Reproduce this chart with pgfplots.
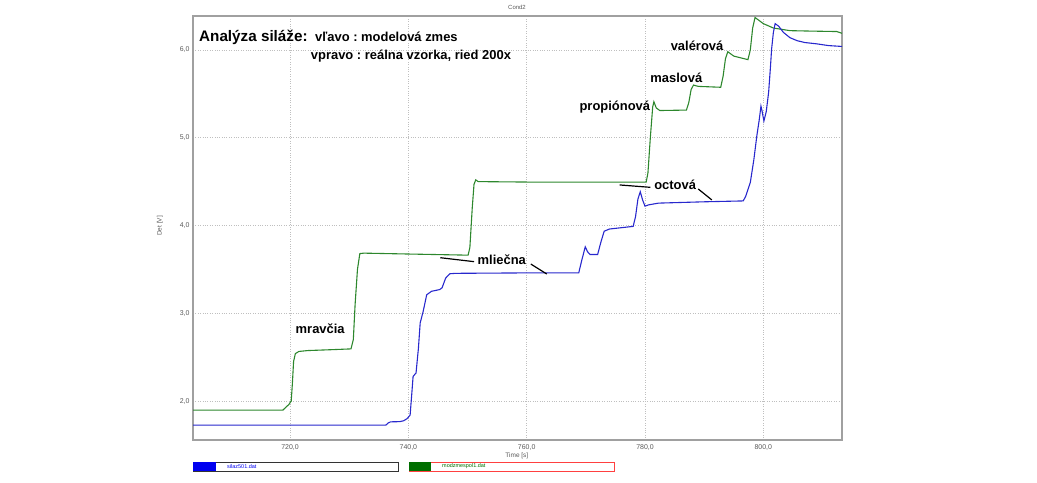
\documentclass[border=0pt]{standalone}
\usepackage{fontspec}
\setmainfont{Liberation Sans}
\usepackage{pgfplots}
\pgfplotsset{compat=1.18}
\frenchspacing

\definecolor{cgreen}{RGB}{45,135,45}
\definecolor{cblue}{RGB}{40,40,205}
\definecolor{lgreen}{RGB}{0,110,0}
\definecolor{lblue}{RGB}{0,0,240}
\definecolor{frame}{RGB}{160,160,160}
\definecolor{ticktxt}{RGB}{90,90,90}

\begin{document}
\begin{tikzpicture}
\path[use as bounding box] (0,0) rectangle (1037bp,483bp);

\begin{axis}[
  at={(193bp,43bp)}, anchor=south west,
  scale only axis,
  width=649bp, height=424bp,
  xmin=703.6, xmax=813.3,
  ymin=1.556, ymax=6.387,
  xtick={720,740,760,780,800},
  ytick={2,3,4,5,6},
  major tick length=0pt,
  grid=major,
  major grid style={dotted, line width=0.7pt, gray!50},
  axis line style={frame, line width=1.1pt},
  tick label style={font=\fontsize{7}{8}\selectfont, text=ticktxt},
  /pgf/number format/.cd, fixed, fixed zerofill, precision=1, use comma, 1000 sep={}, assume math mode=true,
  /pgfplots/.cd,
  xticklabel style={yshift=-1bp},
  xlabel={Time [s]},
  ylabel={Det [V]},
  label style={font=\fontsize{6.5}{8}\selectfont, text=ticktxt},
  xlabel style={at={(axis description cs:0.499,-0.038)}, anchor=center},
  ylabel style={at={(axis description cs:-0.051,0.505)}, anchor=center},
  clip=true,
]

% modzmespol1.dat (green)
\addplot[cgreen, line width=1.1pt] coordinates {
(703.6,1.897) (718.8,1.897) (719.3,1.93) (719.8,1.96) (720.2,2.0) (720.4,2.2)
(720.6,2.45) (720.9,2.54) (721.5,2.565) (723,2.575) (727,2.585) (730.3,2.594)
(730.7,2.7) (731.0,3.1) (731.4,3.5) (731.8,3.68) (732.5,3.685) (740,3.675)
(750.1,3.662) (750.4,3.75) (750.8,4.2) (751.1,4.47) (751.4,4.52) (751.8,4.5)
(760,4.495) (780.2,4.495) (780.5,4.6) (780.9,5.0) (781.3,5.35) (781.5,5.41)
(781.9,5.34) (782.5,5.31) (787.0,5.315) (787.4,5.4) (787.8,5.55) (788.2,5.6)
(789,5.585) (792.8,5.575) (793.2,5.7) (793.6,5.9) (794.0,5.98) (795,5.93)
(797.4,5.89) (797.8,6.0) (798.2,6.25) (798.6,6.37) (799.2,6.34) (800.0,6.30)
(801.7,6.25) (804.5,6.22) (808,6.215) (812.4,6.21) (813.3,6.19)
};

% silaz501.dat (blue)
\addplot[cblue, line width=1.1pt] coordinates {
(703.6,1.726) (736.2,1.726) (736.6,1.75) (737.0,1.763) (738.5,1.765) (739.2,1.775)
(739.8,1.80) (740.3,1.84) (740.6,2.1) (740.8,2.28) (741.3,2.32) (741.7,2.6)
(742.0,2.89) (742.5,3.02) (743.1,3.21) (743.9,3.25) (745.3,3.27) (745.7,3.29)
(746.3,3.40) (747.0,3.45) (748,3.455) (760,3.46) (768.8,3.46) (769.3,3.6)
(769.9,3.757) (770.3,3.70) (770.7,3.67) (772.0,3.67) (772.5,3.8) (773.1,3.935)
(774,3.96) (778.0,3.99) (778.4,4.1) (778.8,4.3) (779.2,4.385) (779.6,4.29)
(780.0,4.22) (780.6,4.235) (782.3,4.255) (790,4.27) (796.6,4.28) (797.0,4.33)
(797.5,4.43) (797.8,4.49) (798.4,4.75) (798.9,5.02) (799.3,5.2) (799.6,5.36)
(799.8,5.3) (800.1,5.19) (800.5,5.3) (800.9,5.52) (801.2,5.8) (801.4,6.01)
(801.7,6.2) (802.0,6.30) (802.6,6.27) (803.4,6.20) (804.5,6.14) (805.7,6.106)
(807,6.085) (809.0,6.07) (811,6.05) (813.3,6.04)
};

% annotations
\begin{scope}[font=\fontsize{13}{15}\selectfont\bfseries]
\node at (axis cs:725.1,2.82) {mravčia};
\node at (axis cs:755.8,3.607) {mliečna};
\node at (axis cs:785.1,4.46) {octová};
\node at (axis cs:774.9,5.354) {propiónová};
\node at (axis cs:785.3,5.684) {maslová};
\node at (axis cs:788.8,6.046) {valérová};
\end{scope}
\draw[black, line width=1.2pt] (axis cs:745.4,3.633) -- (axis cs:751.1,3.588);
\draw[black, line width=1.2pt] (axis cs:760.7,3.561) -- (axis cs:763.4,3.447);
\draw[black, line width=1.2pt] (axis cs:775.7,4.462) -- (axis cs:780.9,4.435);
\draw[black, line width=1.2pt] (axis cs:789.0,4.416) -- (axis cs:791.3,4.291);
\end{axis}

% heading inside the plot
\node[anchor=base west, inner sep=0pt, font=\fontsize{15.3}{18}\selectfont\bfseries] at (199bp,441.3bp) {Analýza siláže:};
\node[anchor=base west, inner sep=0pt, font=\fontsize{13}{15}\selectfont\bfseries] at (315bp,441.3bp) {vľavo : modelová zmes};
\node[anchor=base west, inner sep=0pt, font=\fontsize{13}{15}\selectfont\bfseries] at (310.7bp,423.7bp) {vpravo : reálna vzorka, ried 200x};

% title
\node[font=\fontsize{6}{7}\selectfont, text=ticktxt] at (517bp,476bp) {Cond2};

% file boxes
\draw[black!80, line width=0.8pt] (193bp,12bp) rectangle (398bp,21bp);
\fill[lblue] (193bp,12bp) rectangle (216bp,21bp);
\node[anchor=west, inner sep=0pt, text=lblue, font=\fontsize{5.5}{6}\selectfont] at (227bp,16.5bp) {silaz501.dat};
\draw[red!75, line width=0.8pt] (409bp,12bp) rectangle (614bp,21bp);
\fill[lgreen] (409bp,12bp) rectangle (431bp,21bp);
\node[anchor=west, inner sep=0pt, text=lgreen, font=\fontsize{5.5}{6}\selectfont] at (442bp,16.5bp) {modzmespol1.dat};
\end{tikzpicture}
\end{document}
